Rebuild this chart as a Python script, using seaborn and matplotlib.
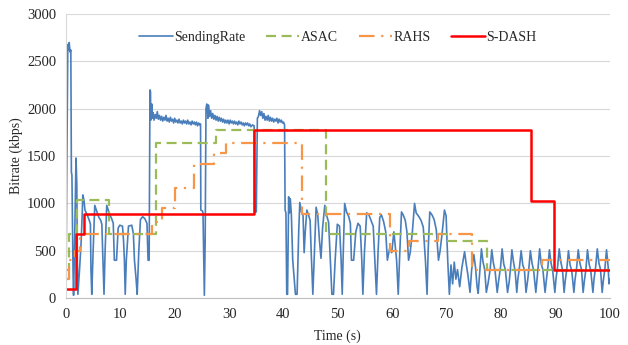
import matplotlib
matplotlib.use("Agg")
import matplotlib.pyplot as plt
import seaborn as sns
import pandas as pd

# Sending rate (time s, kbps)
sending_rate = [
    (0, 0), (0.15, 1300), (0.35, 2680), (0.5, 2620), (0.6, 2700), (0.75, 2600), (0.9, 2620),
    (1.0, 1330), (1.1, 1300), (1.3, 300), (1.4, 30), (1.6, 600), (1.85, 1480), (2.0, 1200),
    (2.1, 400), (2.2, 40), (2.5, 300), (2.8, 600), (3.0, 900), (3.1, 1090), (3.3, 1040),
    (3.5, 930), (3.9, 880), (4.3, 820), (4.5, 780), (4.6, 300), (4.75, 40), (5.0, 500),
    (5.3, 980), (5.6, 930), (6.0, 860), (6.4, 820), (6.6, 780), (6.8, 400), (7.0, 40),
    (7.2, 500), (7.5, 980), (8.0, 890), (8.4, 840), (8.7, 790), (8.9, 400), (9.3, 400),
    (9.6, 740), (9.9, 770), (10.4, 760), (10.6, 600), (10.75, 400), (10.9, 40), (11.1, 400),
    (11.5, 760), (12.1, 770), (12.4, 680), (12.6, 400), (12.9, 200), (13.1, 40), (13.4, 500),
    (13.7, 830), (14.1, 860), (14.5, 840), (14.9, 790), (15.1, 400), (15.3, 400),
    # first high plateau
    (15.45, 2200), (15.55, 2180), (15.6, 1880), (15.7, 1900), (15.8, 2050), (15.9, 1900),
    (16.0, 1960), (16.2, 1880), (16.4, 1940), (16.6, 1900), (16.8, 1970), (17.0, 1890),
    (17.2, 1930), (17.4, 1880), (17.6, 1920), (17.8, 1870), (18.0, 1910), (18.2, 1880),
    (18.4, 1930), (18.6, 1870), (18.8, 1900), (19.0, 1860), (19.2, 1910), (19.4, 1870),
    (19.6, 1890), (19.8, 1850), (20.0, 1900), (20.2, 1860), (20.4, 1880), (20.6, 1850),
    (20.8, 1890), (21.0, 1850), (21.2, 1870), (21.4, 1840), (21.6, 1880), (21.8, 1850),
    (22.0, 1870), (22.2, 1840), (22.4, 1880), (22.6, 1840), (22.8, 1860), (23.0, 1830),
    (23.2, 1870), (23.4, 1840), (23.6, 1860), (23.8, 1830), (24.0, 1860), (24.2, 1820),
    (24.4, 1850), (24.6, 1830), (24.75, 1840), (24.8, 930), (25.1, 920), (25.2, 900),
    (25.45, 30), (25.6, 600), (25.75, 2000), (25.9, 2050), (26.0, 2040), (26.1, 1900),
    # second high plateau
    (26.2, 2040), (26.4, 1920), (26.6, 1980), (26.8, 1900), (27.0, 1950), (27.2, 1890),
    (27.4, 1930), (27.6, 1880), (27.8, 1920), (28.0, 1870), (28.2, 1910), (28.4, 1870),
    (28.6, 1900), (28.8, 1860), (29.0, 1890), (29.2, 1850), (29.4, 1880), (29.6, 1850),
    (29.8, 1880), (30.0, 1840), (30.2, 1880), (30.4, 1850), (30.6, 1870), (30.8, 1840),
    (31.0, 1870), (31.2, 1840), (31.4, 1860), (31.6, 1830), (31.8, 1870), (32.0, 1840),
    (32.2, 1860), (32.4, 1830), (32.6, 1850), (32.8, 1820), (33.0, 1850), (33.2, 1830),
    (33.4, 1850), (33.6, 1820), (33.8, 1840), (34.0, 1810), (34.3, 1830), (34.6, 1820),
    (34.7, 910), (35.0, 910), (35.2, 1900), (35.4, 1920), (35.6, 1980), (35.8, 1930),
    (36.0, 1970), (36.2, 1900), (36.4, 1950), (36.6, 1880), (36.8, 1920), (37.0, 1880),
    (37.2, 1930), (37.4, 1870), (37.6, 1910), (37.8, 1870), (38.0, 1900), (38.2, 1860),
    (38.4, 1890), (38.6, 1870), (38.8, 1900), (39.0, 1850), (39.2, 1890), (39.4, 1860),
    (39.6, 1880), (39.8, 1850), (40.0, 1860), (40.2, 1830), (40.3, 930), (40.45, 900),
    # sawtooth section
    (40.6, 40), (40.75, 40), (40.95, 1070), (41.1, 900), (41.25, 1050), (41.45, 880),
    (41.7, 400), (42.2, 40), (42.5, 40), (42.8, 700), (43.0, 1010), (43.3, 910),
    (43.6, 870), (43.8, 480), (44.0, 700), (44.3, 930), (44.6, 880), (44.9, 820),
    (45.1, 480), (45.4, 40), (45.7, 500), (46.0, 960), (46.3, 880), (46.6, 620),
    (46.9, 420), (47.2, 750), (47.6, 980), (47.9, 880), (48.3, 800), (48.6, 420),
    (48.9, 40), (49.2, 40), (49.5, 400), (49.9, 780), (50.3, 760), (50.6, 400),
    (50.8, 40), (51.0, 500), (51.25, 1000), (51.6, 910), (52.0, 860), (52.3, 790),
    (52.5, 400), (52.9, 400), (53.3, 700), (53.7, 790), (54.1, 760), (54.4, 400),
    (54.6, 40), (54.9, 500), (55.3, 900), (55.7, 880), (56.1, 820), (56.5, 760),
    (56.8, 400), (57.1, 40), (57.4, 500), (57.7, 850), (58.0, 880), (58.4, 810),
    (58.8, 700), (59.1, 400), (59.5, 520), (59.9, 480), (60.3, 700), (60.8, 400),
    (61.1, 40), (61.4, 500), (61.7, 910), (62.0, 880), (62.4, 820), (62.7, 700),
    (63.0, 400), (63.3, 480), (63.7, 700), (64.1, 1000), (64.4, 900), (64.9, 860),
    (65.3, 820), (65.7, 750), (66.1, 400), (66.4, 40), (66.6, 500), (66.9, 910),
    (67.3, 880), (67.7, 830), (68.1, 720), (68.5, 400), (68.8, 500), (69.2, 700),
    (69.6, 930), (69.9, 870), (70.2, 400), (70.5, 40),
    # low oscillation
    (70.8, 350), (71.1, 150), (71.4, 380), (71.7, 200), (72.0, 300), (72.4, 120),
    (72.8, 320), (73.3, 490), (73.6, 360), (73.9, 250), (74.3, 60), (74.6, 300),
    (75.0, 460), (75.3, 330), (75.6, 120), (75.8, 50), (76.1, 280), (76.4, 520),
    (76.7, 380), (77.0, 300), (77.3, 60), (77.6, 150), (78.0, 300), (78.3, 510),
    (78.6, 370), (78.9, 290), (79.3, 60), (79.6, 200), (79.9, 320), (80.2, 520),
    (80.5, 360), (80.8, 300), (81.2, 60), (81.5, 170), (81.7, 290), (82.0, 510),
    (82.3, 380), (82.6, 280), (82.9, 60), (83.1, 200), (83.4, 330), (83.7, 500),
    (84.0, 350), (84.3, 300), (84.6, 60), (84.9, 190), (85.1, 300), (85.4, 500),
    (85.7, 370), (86.0, 290), (86.4, 60), (86.6, 180), (86.8, 310), (87.1, 520),
    (87.4, 360), (87.7, 300), (88.1, 60), (88.3, 170), (88.6, 320), (88.9, 510),
    (89.2, 370), (89.5, 290), (89.9, 60), (90.1, 200), (90.4, 330), (90.7, 520),
    (91.0, 380), (91.3, 300), (91.6, 60), (91.8, 180), (92.1, 310), (92.4, 500),
    (92.7, 350), (93.0, 290), (93.4, 60), (93.6, 190), (93.9, 320), (94.2, 510),
    (94.5, 370), (94.8, 300), (95.1, 60), (95.3, 170), (95.6, 300), (95.9, 510),
    (96.2, 360), (96.5, 290), (96.9, 60), (97.1, 200), (97.4, 330), (97.7, 520),
    (98.0, 370), (98.3, 300), (98.6, 60), (98.8, 180), (99.1, 310), (99.4, 510),
    (99.7, 330), (99.85, 150), (100, 200),
]

# Step series: time of each change and the new bitrate (kbps)
asac_t = [0, 0.5, 2.0, 8.0, 16.5, 27.6, 47.8, 70.0, 77.4, 100]
asac_v = [300, 680, 1040, 680, 1640, 1780, 680, 600, 300, 300]

rahs_t = [0, 0.5, 1.7, 2.6, 15.8, 17.6, 20.0, 23.5, 27.3, 29.5, 43.4, 59.5, 63.0, 68.5, 74.7, 87.5, 100]
rahs_v = [200, 400, 500, 680, 800, 950, 1160, 1420, 1530, 1640, 890, 500, 600, 680, 300, 400, 400]

sdash_t = [0, 1.8, 3.3, 34.5, 85.5, 89.7, 100]
sdash_v = [100, 680, 890, 1780, 1030, 300, 300]

sns.set_style("white")
plt.rcParams['font.family'] = ['Liberation Serif', 'DejaVu Serif']

sr = pd.DataFrame(sending_rate, columns=['t', 'kbps'])

fig = plt.figure(figsize=(6.28, 3.45), dpi=100)
ax = fig.add_axes([0.105, 0.136, 0.866, 0.823])

sns.lineplot(x=sr['t'], y=sr['kbps'], ax=ax, color='#4a7ebb', linewidth=1.2,
             estimator=None, sort=False, label='SendingRate')
sns.lineplot(x=asac_t, y=asac_v, ax=ax, color='#9bbb59', linewidth=1.6,
             drawstyle='steps-post', estimator=None, label='ASAC', linestyle=(0, (4.5, 2.5)))
sns.lineplot(x=rahs_t, y=rahs_v, ax=ax, color='#f79646', linewidth=1.6,
             drawstyle='steps-post', estimator=None, label='RAHS', linestyle=(0, (7, 3, 1, 3)))
sns.lineplot(x=sdash_t, y=sdash_v, ax=ax, color='#ff0000', linewidth=1.8,
             drawstyle='steps-post', estimator=None, label='S-DASH')

ax.set_xlim(0, 100)
ax.set_ylim(0, 3000)
ax.set_xticks(range(0, 101, 10))
ax.set_yticks(range(0, 3001, 500))
ax.yaxis.grid(True, color='#d9d9d9', linewidth=0.8)
ax.set_axisbelow(True)
for s in ['top', 'right']:
    ax.spines[s].set_visible(False)
ax.spines['left'].set_color('#d9d9d9')
ax.spines['bottom'].set_color('#bfbfbf')
ax.tick_params(length=0, labelsize=10.5, colors='#262626', pad=7)
ax.set_xlabel('Time (s)', fontsize=10, color='#262626', labelpad=6)
ax.set_ylabel('Bitrate (kbps)', fontsize=10, color='#262626', labelpad=3)

ax.legend(loc='upper center', bbox_to_anchor=(0.5, 0.985), ncol=4, frameon=False,
          fontsize=10, handlelength=2.4, columnspacing=1.5, handletextpad=0.1)

plt.savefig('out.png', dpi=100)
plt.close()
